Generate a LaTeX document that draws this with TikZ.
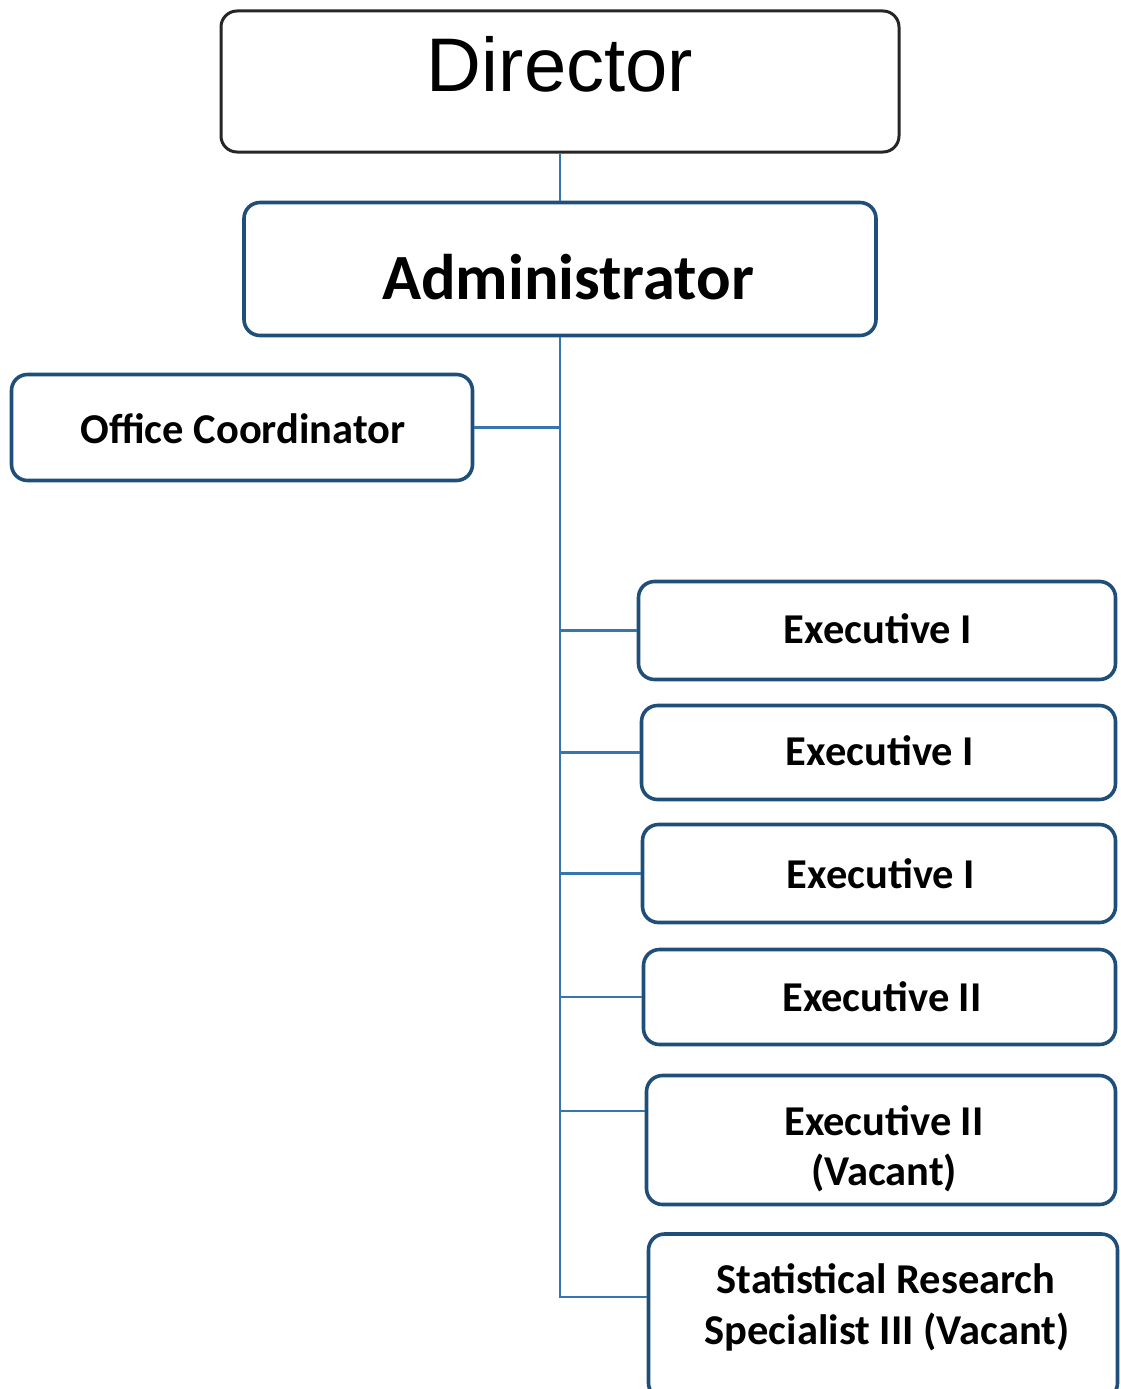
\documentclass[tikz,border=0pt]{standalone}
\usepackage{fontspec}
\setmainfont{Carlito}
\newfontfamily\arialfont{Liberation Sans}
\definecolor{boxblue}{HTML}{1F4E79}
\definecolor{linkblue}{HTML}{3676AE}
\definecolor{dirgray}{HTML}{262626}
\tikzset{
  box/.style={draw=boxblue, line width=3.6pt, rounded corners=16pt, inner sep=0pt, fill=white},
  dirbox/.style={box, draw=dirgray, line width=3pt},
  link/.style={draw=linkblue, line width=2.4pt},
  lbl/.style={anchor=base, inner sep=0pt, text=black, font=\bfseries\fontsize{42.5}{50}\selectfont},
}
\begin{document}
\begin{tikzpicture}[x=1pt,y=-1pt]
\useasboundingbox (0,0) rectangle (1121,1389);
% boxes
\node[dirbox, minimum width=678pt, minimum height=141pt] (dir) at (560,81.5) {};
\node[box, minimum width=632pt, minimum height=133pt] (adm) at (560,269) {};
\node[box, minimum width=461pt, minimum height=106pt] (oc) at (242,427.5) {};
\node[box, minimum width=477pt, minimum height=98pt] (e1) at (877,630.5) {};
\node[box, minimum width=474pt, minimum height=94pt] (e2) at (878.5,752.5) {};
\node[box, minimum width=473pt, minimum height=98pt] (e3) at (879,873.5) {};
\node[box, minimum width=472pt, minimum height=95pt] (e4) at (879.5,997) {};
\node[box, minimum width=469pt, minimum height=129pt] (e5) at (881,1140) {};
\node[box, minimum width=469pt, minimum height=165pt] (srs) at (883,1316.5) {};
% connector points
\coordinate (b5) at (e5.west |- 0,1111);
\coordinate (b6) at (srs.west |- 0,1297);
% connectors
\draw[link] (dir.south) -- (adm.north);
\draw[link] (adm.south) |- (b6);
\draw[link] (oc.east) -- (oc.east -| adm.south);
\draw[link] (adm.south |- e1.west) -- (e1.west);
\draw[link] (adm.south |- e2.west) -- (e2.west);
\draw[link] (adm.south |- e3.west) -- (e3.west);
\draw[link] (adm.south |- e4.west) -- (e4.west);
\draw[link] (adm.south |- b5) -- (b5);
% labels
\node[anchor=base, inner sep=0pt, font=\arialfont\fontsize{76}{80}\selectfont] (tdir) at (560,92) {Director};
\node[lbl, font=\bfseries\fontsize{64.5}{70}\selectfont] (tadm) at (568,299) {Administrator};
\node[lbl] (toc) at (243,443) {Office Coordinator};
\node[lbl] (te1) at (878,643) {Executive I};
\node[lbl] (te2) at (880,765) {Executive I};
\node[lbl] (te3) at (881,888) {Executive I};
\node[lbl] (te4) at (882,1011) {Executive II};
\node[lbl] (te5a) at (884,1135) {Executive II};
\node[lbl] (te5b) at (884,1185) {(Vacant)};
\node[lbl] (tsa) at (886,1293) {Statistical Research};
\node[lbl] (tsb) at (887,1344) {Specialist III (Vacant)};
\end{tikzpicture}
\end{document}
